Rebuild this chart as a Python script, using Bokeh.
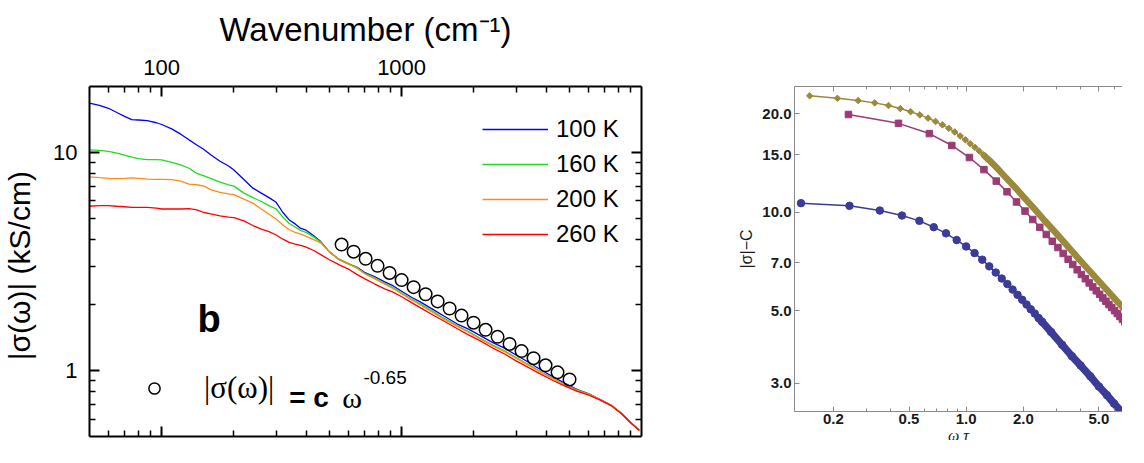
import numpy as np
from bokeh.plotting import figure
from bokeh.models import (Range1d, LogAxis, FixedTicker, Legend, LegendItem, Label,
                          BasicTickFormatter, PrintfTickFormatter)
from bokeh.layouts import row
from bokeh.embed import file_html
from bokeh.resources import INLINE

# ---------------- left panel data ----------------
wavenumber = [50, 55, 60, 65, 70, 75, 80, 87, 95, 100, 110, 120, 130, 140, 150,
              160, 175, 190, 200, 220, 240, 260, 280, 300, 320, 340, 360, 380, 400, 430,
              460, 500, 550, 600, 650, 700, 770, 850, 920, 1000, 1100, 1200, 1350, 1500, 1700,
              1900, 2100, 2400, 2700, 3000, 3400, 3800, 4300, 4800, 5400, 6000, 6700, 7500, 8300, 9000,
              9800]
sigma_100K = [16.8, 16.4, 15.9, 15.2, 14.6, 14.1, 14.05, 13.95, 13.65, 13.4, 12.8, 12.1, 11.4, 10.8, 10.3,
              9.75, 9.1, 8.65, 8.3, 7.5, 6.85, 6.5, 6.2, 5.9, 5.3, 4.9, 4.7, 4.48, 4.4, 4.15,
              3.9, 3.5, 3.22, 3.08, 2.98, 2.82, 2.70, 2.55, 2.45, 2.31, 2.17, 2.06, 1.91, 1.78, 1.64,
              1.55, 1.46, 1.345, 1.265, 1.18, 1.09, 1.01, 0.935, 0.875, 0.82, 0.785, 0.74, 0.695, 0.635, 0.58,
              0.535]
sigma_160K = [10.26, 10.2, 10.1, 9.9, 9.7, 9.5, 9.35, 9.25, 9.25, 9.22, 9.0, 8.75, 8.45, 8.0, 7.8,
              7.6, 7.3, 7.1, 7.0, 6.5, 6.2, 5.95, 5.7, 5.5, 5.05, 4.72, 4.55, 4.38, 4.3, 4.1,
              3.88, 3.5, 3.24, 3.1, 2.97, 2.80, 2.66, 2.51, 2.40, 2.27, 2.13, 2.02, 1.87, 1.74, 1.61,
              1.51, 1.42, 1.31, 1.23, 1.15, 1.065, 0.99, 0.92, 0.865, 0.815, 0.783, 0.74, 0.695, 0.635, 0.58,
              0.535]
sigma_200K = [7.71, 7.65, 7.6, 7.58, 7.6, 7.63, 7.6, 7.53, 7.52, 7.52, 7.5, 7.38, 7.15, 7.1, 7.0,
              6.75, 6.55, 6.45, 6.4, 6.1, 5.85, 5.5, 5.2, 4.95, 4.65, 4.42, 4.3, 4.22, 4.12, 3.98,
              3.85, 3.5, 3.22, 3.08, 2.95, 2.78, 2.64, 2.49, 2.38, 2.25, 2.11, 2.0, 1.85, 1.72, 1.60,
              1.50, 1.41, 1.30, 1.22, 1.14, 1.055, 0.985, 0.915, 0.862, 0.813, 0.782, 0.74, 0.695, 0.635, 0.58,
              0.535]
sigma_260K = [5.66, 5.70, 5.70, 5.66, 5.63, 5.60, 5.60, 5.60, 5.55, 5.50, 5.50, 5.50, 5.52, 5.45, 5.30,
              5.22, 5.12, 5.05, 5.02, 4.85, 4.62, 4.45, 4.33, 4.18, 4.0, 3.87, 3.80, 3.75, 3.68, 3.55,
              3.40, 3.22, 3.05, 2.92, 2.76, 2.64, 2.50, 2.37, 2.29, 2.18, 2.05, 1.94, 1.80, 1.69, 1.56,
              1.46, 1.38, 1.27, 1.19, 1.11, 1.03, 0.965, 0.90, 0.85, 0.805, 0.775, 0.735, 0.69, 0.632, 0.578,
              0.533]
fit_wavenumber = [562, 631, 708, 794, 891, 1000, 1122, 1259, 1413, 1585,
                  1778, 1995, 2239, 2512, 2818, 3162, 3548, 3981, 4467, 5012]
fit_sigma = [3.78, 3.507, 3.254, 3.020, 2.802, 2.600, 2.413, 2.239, 2.077, 1.927,
             1.788, 1.659, 1.540, 1.429, 1.326, 1.230, 1.141, 1.059, 0.983, 0.912]
series_labels = ["100 K", "160 K", "200 K", "260 K"]
top_tick_labels = [100, 1000]
top_minor = [60, 70, 80, 90, 200, 300, 400, 500, 600, 700, 800, 900,
             2000, 3000, 4000, 5000, 6000, 7000, 8000, 9000]
left_tick_labels = [1, 10]
left_minor = [0.6, 0.7, 0.8, 0.9, 2, 3, 4, 5, 6, 7, 8, 9]

# ---------------- right panel data ----------------
wt_blue = [0.135, 0.243, 0.351, 0.459, 0.567, 0.675, 0.783, 0.891, 0.999, 1.107, 1.215, 1.323,
           1.431, 1.539, 1.647, 1.755, 1.863, 1.971, 2.079, 2.187, 2.295, 2.403, 2.511]
s_blue = [10.66, 10.46, 10.12, 9.77, 9.41, 9.00, 8.62, 8.22, 7.86, 7.50, 7.16, 6.83,
          6.54, 6.27, 6.03, 5.80, 5.59, 5.40, 5.22, 5.05, 4.90, 4.75, 4.62]
wt_blue_tail = [2.8, 3.2, 3.6, 4.0, 4.5, 5.0, 5.5, 6.0, 6.5, 7.0, 7.5, 8.0, 8.2]
s_blue_tail = [4.30, 3.93, 3.63, 3.40, 3.15, 2.93, 2.76, 2.60, 2.47, 2.36, 2.25, 2.16, 2.13]

wt_mag = [0.24, 0.44, 0.64, 0.84, 1.04, 1.24, 1.44, 1.64, 1.84, 2.04, 2.24, 2.44, 2.64, 2.84,
          3.04, 3.24, 3.44, 3.64, 3.84, 4.04, 4.24, 4.44, 4.64, 4.84, 5.04, 5.24, 5.44, 5.64,
          5.84, 6.04, 6.24, 6.44, 6.64, 6.84, 7.04, 7.24, 7.44, 7.64, 7.84, 8.04]
s_mag = [19.9, 18.7, 17.4, 16.0, 14.7, 13.5, 12.45, 11.55, 10.75, 10.08, 9.50, 8.99, 8.55, 8.15,
         7.80, 7.48, 7.18, 6.92, 6.67, 6.45, 6.26, 6.08, 5.91, 5.75, 5.61, 5.47, 5.34, 5.22,
         5.11, 5.00, 4.90, 4.80, 4.71, 4.62, 4.54, 4.46, 4.38, 4.31, 4.24, 4.17]

wt_gold = [0.15, 0.21, 0.27, 0.33, 0.39, 0.45, 0.51, 0.57, 0.63, 0.69, 0.75, 0.81, 0.87, 0.93,
           0.99, 1.05, 1.11, 1.17, 1.23, 1.29, 1.35, 1.41, 1.47]
s_gold = [22.7, 22.3, 21.95, 21.6, 21.2, 20.75, 20.3, 19.85, 19.4, 18.95, 18.5, 18.05, 17.6, 17.1,
          16.65, 16.2, 15.8, 15.4, 15.0, 14.6, 14.25, 13.9, 13.55]
wt_gold_tail = [1.6, 1.8, 2.0, 2.3, 2.6, 3.0, 3.5, 4.0, 4.5, 5.0, 5.5, 6.0, 6.5, 7.0, 7.5, 8.0, 8.2]
s_gold_tail = [12.85, 11.95, 11.15, 10.2, 9.4, 8.58, 7.75, 7.1, 6.58, 6.15, 5.79, 5.47, 5.2,
               4.97, 4.76, 4.58, 4.51]

wt_major = [0.2, 0.5, 1.0, 2.0, 5.0]
wt_minor = [0.3, 0.4, 0.6, 0.7, 0.8, 0.9, 3, 4, 6, 7, 8]
sc_major = [3.0, 5.0, 7.0, 10.0, 15.0, 20.0]

# ---------------- left panel ----------------
SANS = "Liberation Sans"
SERIF = "Liberation Serif"
colors = ["#0000ff", "#1fdc1f", "#ff8a1c", "#ff0000"]

p = figure(frame_width=552, frame_height=350, x_axis_type="log", y_axis_type="log",
           x_range=Range1d(50, 10000), y_range=Range1d(0.5, 20),
           x_axis_location="above", y_axis_location="left",
           min_border_left=87, min_border_right=49, min_border_top=86, min_border_bottom=4,
           output_backend="svg", toolbar_location=None)
p.grid.visible = False
p.outline_line_color = None
p.background_fill_color = "white"
p.border_fill_color = "white"

ax_top = p.xaxis[0]
ax_left = p.yaxis[0]
ax_bottom = LogAxis()
ax_right = LogAxis()
p.add_layout(ax_bottom, "below")
p.add_layout(ax_right, "right")


def style_frame_axis(ax, major, minor, labels, standoff=12):
    ax.ticker = FixedTicker(ticks=major, minor_ticks=minor)
    ax.axis_line_color = "black"
    ax.axis_line_width = 2
    ax.major_tick_in = 10
    ax.major_tick_out = 0
    ax.minor_tick_in = 6
    ax.minor_tick_out = 0
    ax.major_tick_line_color = "black"
    ax.minor_tick_line_color = "black"
    ax.major_tick_line_width = 2
    ax.minor_tick_line_width = 1.5
    if labels:
        ax.formatter = BasicTickFormatter(use_scientific=False)
        ax.major_label_text_font = SANS
        ax.major_label_text_font_size = "22px"
        ax.major_label_text_color = "black"
        ax.major_label_standoff = standoff
    else:
        ax.major_label_overrides = {t: "" for t in major}
        ax.major_label_text_font_size = "1px"
        ax.major_label_standoff = 0


style_frame_axis(ax_top, top_tick_labels, top_minor, True, standoff=12)
style_frame_axis(ax_bottom, top_tick_labels, top_minor, False)
style_frame_axis(ax_left, left_tick_labels, left_minor, True, standoff=12)
style_frame_axis(ax_right, left_tick_labels, left_minor, False)

ax_top.axis_label = "Wavenumber (cm\u207b\u00b9)"
ax_top.axis_label_text_font = SANS
ax_top.axis_label_text_font_style = "normal"
ax_top.axis_label_text_font_size = "33px"
ax_top.axis_label_text_color = "black"
ax_top.axis_label_standoff = 9

ax_left.axis_label = "|σ(ω)|  (kS/cm)"
ax_left.axis_label_text_font = SANS
ax_left.axis_label_text_font_style = "normal"
ax_left.axis_label_text_font_size = "30px"
ax_left.axis_label_text_color = "black"
ax_left.axis_label_standoff = 14

renderers = []
for ys, c in zip([sigma_100K, sigma_160K, sigma_200K, sigma_260K], colors):
    renderers.append(p.line(wavenumber, ys, line_color=c, line_width=1.3))

circ = p.scatter(fit_wavenumber, fit_sigma, marker="circle", size=12.5, fill_color=None,
                 line_color="black", line_width=1.5)

leg = Legend(items=[LegendItem(label=l, renderers=[r]) for l, r in zip(series_labels, renderers)],
             location=(393, 186), glyph_width=66, glyph_height=32, label_height=32, spacing=3,
             padding=0, margin=0, label_standoff=8, label_text_font=SANS,
             label_text_font_size="24px", label_text_color="black",
             border_line_color=None, background_fill_alpha=0)
p.add_layout(leg)

leg2 = Legend(items=[LegendItem(label="|σ(ω)|", renderers=[circ])],
              location=(51, 30), glyph_width=28, glyph_height=28, label_height=36, spacing=0,
              padding=0, margin=0, label_standoff=36, label_text_font=SERIF,
              label_text_font_size="31px", label_text_color="black",
              border_line_color=None, background_fill_alpha=0)
p.add_layout(leg2)

p.add_layout(Label(x=140.9, y=1.729, text="b", text_font=SANS, text_font_style="bold",
                   text_font_size="38px", text_color="black", text_baseline="alphabetic"))
p.add_layout(Label(x=340.0, y=0.7567, text="= c", text_font=SANS, text_font_style="bold",
                   text_font_size="28px", text_color="black", text_baseline="alphabetic"))
p.add_layout(Label(x=565.0, y=0.7567, text="ω", text_font=SERIF,
                   text_font_size="30px", text_color="black", text_baseline="alphabetic"))
p.add_layout(Label(x=692.9, y=0.930, text="-0.65", text_font=SANS,
                   text_font_size="19px", text_color="black", text_baseline="alphabetic"))

# ---------------- right panel ----------------
BLUE_M = "#3b3b98"
MAG_M = "#9a3c74"
GOLD_M = "#9a8a3a"
AX_GRAY = "#8a8a8a"

q = figure(frame_width=328, frame_height=325, x_axis_type="log", y_axis_type="log",
           x_range=Range1d(0.1248, 6.65), y_range=Range1d(2.458, 24.24),
           min_border_left=104, min_border_right=0, min_border_top=72, min_border_bottom=43,
           output_backend="svg", toolbar_location=None)
q.grid.visible = False
q.outline_line_color = None
q.background_fill_color = "white"
q.border_fill_color = "white"

qx = q.xaxis[0]
qy = q.yaxis[0]
qtop = LogAxis()
q.add_layout(qtop, "above")


def style_mma_axis(ax, major, minor, labels):
    ax.ticker = FixedTicker(ticks=major, minor_ticks=minor)
    ax.axis_line_color = AX_GRAY
    ax.axis_line_width = 1
    ax.major_tick_in = 5
    ax.major_tick_out = 0
    ax.minor_tick_in = 3
    ax.minor_tick_out = 0
    ax.major_tick_line_color = AX_GRAY
    ax.minor_tick_line_color = AX_GRAY
    ax.major_tick_line_width = 1
    ax.minor_tick_line_width = 1
    if labels:
        ax.formatter = PrintfTickFormatter(format="%.1f")
        ax.major_label_text_font = SANS
        ax.major_label_text_font_size = "15px"
        ax.major_label_text_font_style = "bold"
        ax.major_label_text_color = "#1a1a1a"
        ax.major_label_standoff = 2
    else:
        ax.major_label_overrides = {t: "" for t in major}
        ax.major_label_text_font_size = "1px"
        ax.major_label_standoff = 0


style_mma_axis(qx, wt_major, wt_minor, True)
style_mma_axis(qtop, wt_major, wt_minor, False)
style_mma_axis(qy, sc_major, [], True)
qy.major_label_standoff = 3

qx.axis_label = "ω τ"
qx.axis_label_text_font = SERIF
qx.axis_label_text_font_style = "italic"
qx.axis_label_text_font_size = "16px"
qx.axis_label_text_color = "#1a1a1a"
qx.axis_label_standoff = 0

qy.axis_label = "|σ|−C"
qy.axis_label_text_font = SANS
qy.axis_label_text_font_style = "normal"
qy.axis_label_text_font_size = "16px"
qy.axis_label_text_color = "#1a1a1a"
qy.axis_label_standoff = 4

# gold diamonds
gold_x = wt_gold + wt_gold_tail
gold_y = s_gold + s_gold_tail
q.line(gold_x, gold_y, line_color=GOLD_M, line_width=1.5)
band_gx = [x for x in gold_x if x >= 1.2]
band_gy = [y for x, y in zip(gold_x, gold_y) if x >= 1.2]
q.line(band_gx, band_gy, line_color=GOLD_M, line_width=6.5)
q.scatter(gold_x, gold_y, marker="square", angle=np.pi / 4, size=4.6, color=GOLD_M)

# magenta squares
q.line(wt_mag, s_mag, line_color=MAG_M, line_width=1.5)
q.scatter(wt_mag, s_mag, marker="square", size=6.5, color=MAG_M)

# blue circles
blue_x = wt_blue + wt_blue_tail
blue_y = s_blue + s_blue_tail
q.line(blue_x, blue_y, line_color=BLUE_M, line_width=1.5)
band_bx = [x for x in blue_x if x >= 2.3]
band_by = [y for x, y in zip(blue_x, blue_y) if x >= 2.3]
q.line(band_bx, band_by, line_color=BLUE_M, line_width=7.5)
q.scatter(blue_x, blue_y, marker="circle", size=7.5, color=BLUE_M)

layout = row(p, q)
open("out.html", "w").write(file_html(layout, INLINE, title="conductivity"))
